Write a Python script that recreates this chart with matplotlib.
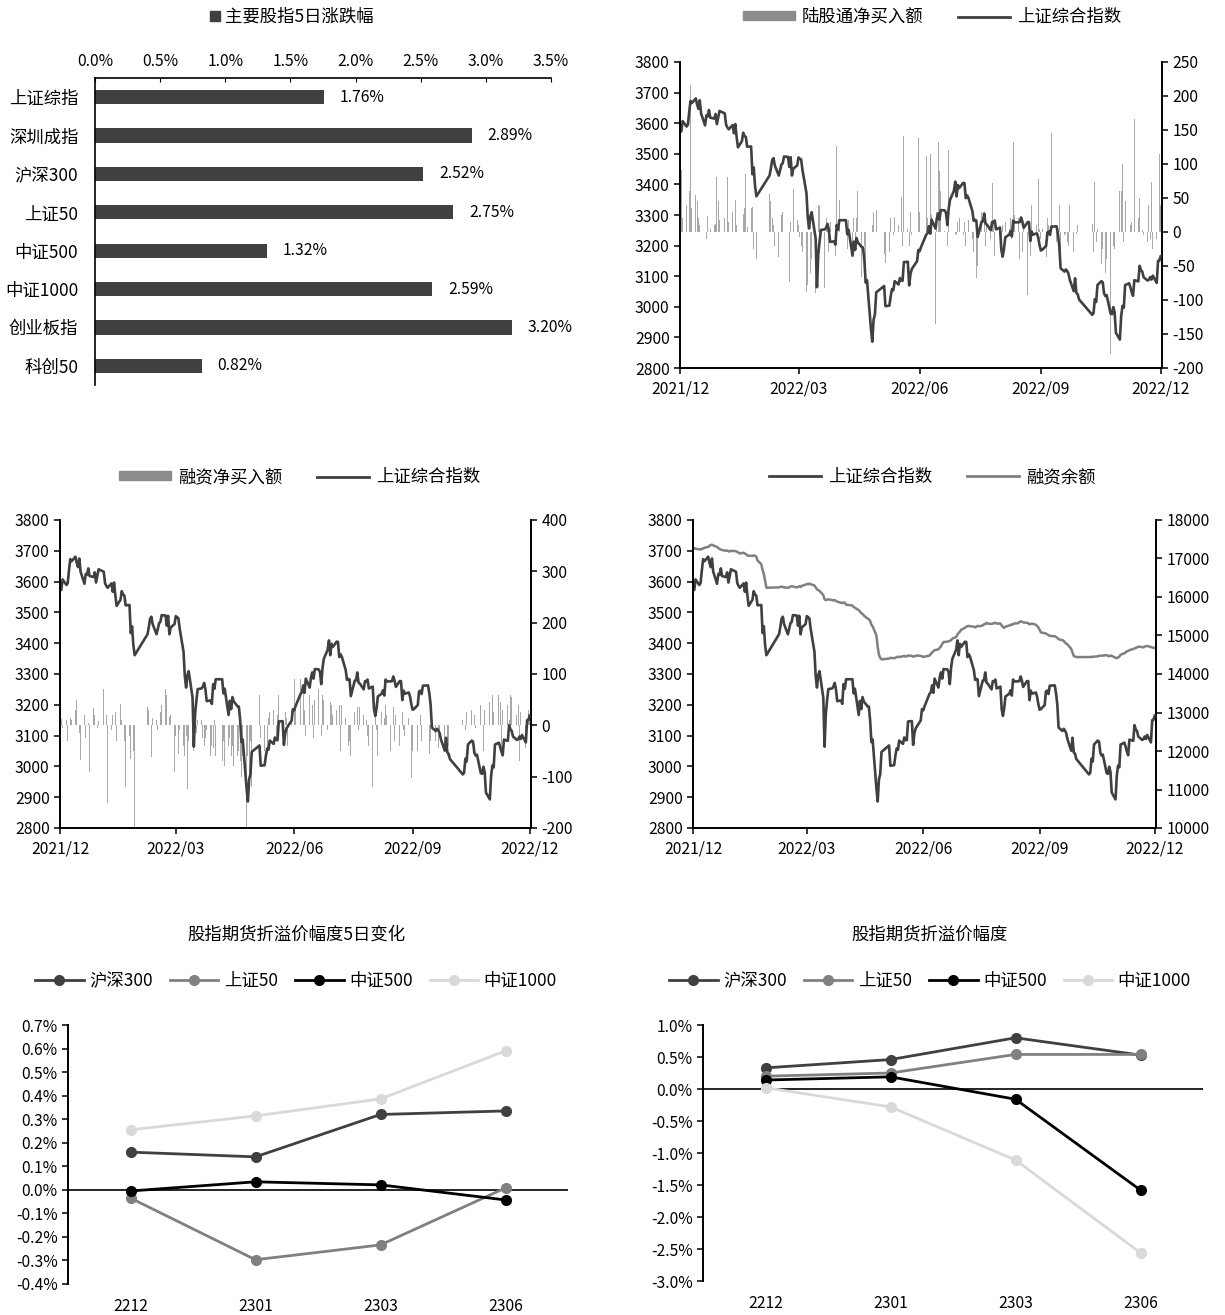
import numpy as np
import pandas as pd
import matplotlib
matplotlib.use('Agg')
import matplotlib.pyplot as plt
import matplotlib.dates as mdates
from matplotlib.patches import Patch
from matplotlib.lines import Line2D
from matplotlib.ticker import FuncFormatter, MultipleLocator

plt.rcParams['font.family'] = ['Noto Sans CJK SC', 'DejaVu Sans']
plt.rcParams['axes.unicode_minus'] = False

# ---- panel 1: 5-day change of main indices ----
idx_names = ['上证综指', '深圳成指', '沪深300', '上证50', '中证500', '中证1000', '创业板指', '科创50']
idx_chg = [1.76, 2.89, 2.52, 2.75, 1.32, 2.59, 3.20, 0.82]

# ---- daily series, 2021/12/01 - 2022/12/01 (trading days) ----
holidays = ['2022-01-03', '2022-01-31', '2022-02-01', '2022-02-02', '2022-02-03', '2022-02-04',
            '2022-04-04', '2022-04-05', '2022-05-02', '2022-05-03', '2022-05-04', '2022-06-03',
            '2022-09-12', '2022-10-03', '2022-10-04', '2022-10-05', '2022-10-06', '2022-10-07']

sh_dec21 = [3576, 3573, 3607, 3589, 3595, 3637, 3673, 3666, 3681, 3661, 3647, 3675, 3632, 3593, 3625,
            3622, 3643, 3618, 3615, 3630, 3597, 3619, 3640]
sh_jan = [3632, 3595, 3586, 3580, 3594, 3567, 3597, 3555, 3521, 3541, 3569, 3558, 3555, 3523, 3524,
          3433, 3455, 3394, 3361]
sh_feb = [3429, 3452, 3479, 3486, 3462, 3429, 3446, 3465, 3469, 3491, 3490, 3457, 3489, 3429, 3451, 3462]
sh_mar = [3488, 3484, 3481, 3447, 3372, 3293, 3256, 3296, 3309, 3223, 3064, 3171, 3215, 3251, 3253,
          3259, 3271, 3250, 3212, 3214, 3203, 3267, 3252]
sh_apr = [3283, 3283, 3237, 3252, 3167, 3213, 3186, 3225, 3211, 3195, 3194, 3151, 3079, 3087, 2928,
          2886, 2958, 2975, 3047]
sh_may = [3068, 3002, 3004, 3035, 3058, 3054, 3084, 3073, 3094, 3086, 3085, 3146, 3147, 3070, 3107,
          3123, 3130, 3149, 3186]
sh_jun = [3182, 3195, 3236, 3241, 3263, 3239, 3285, 3256, 3288, 3305, 3285, 3316, 3315, 3307, 3267,
          3320, 3349, 3379, 3409, 3361, 3398]
sh_jul = [3388, 3405, 3404, 3355, 3364, 3356, 3313, 3281, 3284, 3282, 3228, 3278, 3279, 3305, 3272,
          3269, 3250, 3277, 3275, 3282, 3253]
sh_aug = [3259, 3186, 3164, 3189, 3227, 3236, 3247, 3230, 3282, 3276, 3276, 3277, 3292, 3278, 3258,
          3277, 3277, 3215, 3246, 3236, 3240, 3227, 3202]
sh_sep = [3184, 3186, 3199, 3243, 3246, 3235, 3262, 3263, 3237, 3200, 3126, 3115, 3122, 3117, 3108,
          3088, 3051, 3093, 3045, 3041, 3024]
sh_oct = [2974, 2979, 3025, 3016, 3071, 3084, 3080, 3044, 3035, 3038, 2978, 2976, 2999, 2982, 2915, 2893]
sh_nov = [2969, 3003, 2997, 3071, 3077, 3064, 3048, 3036, 3087, 3083, 3134, 3120, 3115, 3097, 3086,
          3088, 3097, 3089, 3102, 3078, 3150, 3151]
sh_dec22 = [3165]

# northbound net buy (亿元)
nb_dec21 = [30, 91, 20, 40, 97, 60, 216, 35, 54, 45, 20, 10, -66, -17, -10, 24, 15, 5, 10, 12, 81, 45, 18]
nb_jan = [20, -67, 81, 15, 30, -41, 47, 10, -12, 20, 27, 35, 85, 8, 35, 37, -25, -146, -40]
nb_feb = [56, 45, 20, 10, -20, -37, 15, 25, 30, 63, 10, -73, 15, -20, 63, 17]
nb_mar = [10, -7, -20, -30, -88, -78, -20, -60, -40, -90, -161, 40, 38, 15, -83, 20, 10, -30, 15, 20,
          -35, 127, 10]
nb_apr = [47, -53, -25, 17, -37, 20, -15, 20, 60, -66, 12, -20, -50, 67, -25, 10, 30, 15, 32]
nb_may = [-32, -45, -30, 20, 15, -5, 22, 10, 60, 52, -20, 141, 5, -20, 30, -5, 20, 32, 138]
nb_jun = [30, 20, 112, 20, 35, 115, 25, -135, 30, 133, 90, 60, 1, 50, -20, 120, 27, 40, -3, -5, 15]
nb_jul = [20, -5, 15, -20, 10, 17, -10, -30, 5, -68, -50, 30, -99, 18, -20, 10, -10, 72, 15, -36, -20]
nb_aug = [-32, -20, 10, 20, 15, 5, 20, -10, 132, 25, 20, -40, 13, -30, 15, -93, -50, -35, 40, 10, 10,
          78, 5]
nb_sep = [-10, 5, -37, 20, 10, 5, 146, -15, 15, 40, -45, -5, -3, -15, -20, 40, -30, 20, -3, 10, -2]
nb_oct = [12, -30, 73, -15, 5, -47, -25, -86, -60, -40, -180, 30, -20, -25, -47, 60]
nb_nov = [60, 100, -15, 45, -47, 10, 15, 146, 166, 20, 50, -20, 3, -5, -15, 40, -10, 73, -25, -10, 98, 115]
nb_dec22 = [40]

# margin net buy (亿元)
mg_dec21 = [-10, 12, -5, 10, -30, 25, 15, 10, 30, 50, 20, -15, -68, 20, -25, 10, 5, -90, 33, 20, -15, -5, 8]
mg_jan = [70, -20, 20, -152, -10, 20, -45, 25, -30, 42, 10, -100, -30, -120, -20, -65, -100, -50, -202]
mg_feb = [36, 30, 20, -62, 15, 10, -10, 15, 25, 40, 70, 60, -36, 16, 20, -91]
mg_mar = [-20, -30, -55, -10, -40, -60, -20, -124, -30, -40, -50, 20, -15, 10, 10, -25, -40, -25, -10,
          -60, -40, -45, 10]
mg_apr = [-60, -70, -30, -80, -40, -25, -60, -40, -80, -60, -50, -70, -100, -60, -202, -60, -120, -30, -120]
mg_may = [60, -25, -50, 10, -55, 15, 25, 30, 10, -20, 20, 60, -10, -30, 25, 15, -40, 30, 90]
mg_jun = [91, 40, 90, 50, 70, 30, -20, 60, 101, 40, -25, 50, 70, 30, -20, 60, 50, -10, 80, 45, 40]
mg_jul = [20, 30, -20, 40, -50, 40, 15, -10, -40, -30, -60, 25, 20, 35, -10, 35, 20, 25, 10, -20, -40]
mg_aug = [-120, -40, 20, -10, -60, 25, -30, 15, 40, 20, -50, 10, 35, -30, 20, -40, 10, 25, -10, -20, 15,
          -55, -103]
mg_sep = [-50, 20, -50, 10, 20, -30, 10, -55, -55, -30, -50, -30, -40, -45, -15, -60, -50, -40, -60, -40, -163]
mg_oct = [10, 20, -10, 25, 15, 30, 35, 20, -5, 25, 40, 20, -50, 30, -20, 45]
mg_nov = [50, 60, 25, 40, 59, 45, -50, 30, 20, 40, 10, 60, 55, 30, 20, 40, -70, 25, 20, -45, 10, 30]
mg_dec22 = [20]

# margin balance (亿元)
bal_dec21 = [17280, 17270, 17250, 17240, 17230, 17250, 17260, 17280, 17300, 17330, 17350, 17360, 17340,
             17300, 17270, 17250, 17230, 17220, 17200, 17210, 17190, 17180, 17200]
bal_jan = [17190, 17170, 17150, 17130, 17150, 17130, 17110, 17080, 17070, 17070, 17080, 17070, 17050,
           16950, 16850, 16700, 16600, 16420, 16240]
bal_feb = [16250, 16260, 16270, 16260, 16250, 16240, 16250, 16270, 16280, 16270, 16250, 16260, 16280,
           16260, 16290, 16320]
bal_mar = [16340, 16330, 16350, 16330, 16300, 16250, 16200, 16180, 16160, 16050, 15940, 15920, 15930,
           15940, 15920, 15910, 15920, 15900, 15880, 15850, 15840, 15860, 15850]
bal_apr = [15800, 15780, 15740, 15720, 15660, 15620, 15580, 15560, 15520, 15440, 15420, 15380, 15280,
           15240, 15000, 14700, 14500, 14420, 14380]
bal_may = [14400, 14420, 14410, 14420, 14440, 14450, 14440, 14460, 14470, 14450, 14460, 14480, 14470,
           14450, 14460, 14470, 14480, 14470, 14460]
bal_jun = [14440, 14450, 14480, 14520, 14560, 14590, 14620, 14640, 14680, 14720, 14780, 14830, 14840,
           14850, 14860, 14880, 14920, 14960, 15020, 15070, 15100]
bal_jul = [15150, 15200, 15230, 15240, 15250, 15240, 15230, 15210, 15230, 15250, 15240, 15260, 15290,
           15300, 15330, 15310, 15300, 15310, 15320, 15330, 15310]
bal_aug = [15310, 15260, 15220, 15200, 15230, 15260, 15280, 15270, 15300, 15310, 15320, 15350, 15370,
           15360, 15340, 15330, 15320, 15290, 15300, 15310, 15280, 15250, 15210]
bal_sep = [15150, 15080, 15060, 15050, 15030, 15010, 14990, 14980, 14960, 14940, 14900, 14880, 14860,
           14820, 14790, 14770, 14650, 14560, 14470, 14450, 14440]
bal_oct = [14440, 14440, 14450, 14440, 14450, 14460, 14470, 14480, 14470, 14480, 14490, 14470, 14460,
           14480, 14470, 14420]
bal_nov = [14410, 14430, 14450, 14500, 14540, 14560, 14590, 14600, 14620, 14650, 14660, 14680, 14690,
           14710, 14700, 14690, 14710, 14720, 14730, 14700, 14690, 14680]
bal_dec22 = [14680]

# ---- futures basis panels ----
contracts = ['2212', '2301', '2303', '2306']
basis_chg_hs300 = [0.16, 0.14, 0.32, 0.335]
basis_chg_sz50 = [-0.035, -0.297, -0.234, 0.008]
basis_chg_zz500 = [-0.005, 0.034, 0.021, -0.043]
basis_chg_zz1000 = [0.255, 0.314, 0.386, 0.59]

basis_hs300 = [0.33, 0.46, 0.80, 0.53]
basis_sz50 = [0.20, 0.25, 0.54, 0.54]
basis_zz500 = [0.14, 0.19, -0.16, -1.58]
basis_zz1000 = [0.02, -0.28, -1.11, -2.56]

# assemble daily series
sh_index = sum([sh_dec21, sh_jan, sh_feb, sh_mar, sh_apr, sh_may, sh_jun, sh_jul, sh_aug, sh_sep,
                sh_oct, sh_nov, sh_dec22], [])
northbound = sum([nb_dec21, nb_jan, nb_feb, nb_mar, nb_apr, nb_may, nb_jun, nb_jul, nb_aug, nb_sep,
                  nb_oct, nb_nov, nb_dec22], [])
margin_buy = sum([mg_dec21, mg_jan, mg_feb, mg_mar, mg_apr, mg_may, mg_jun, mg_jul, mg_aug, mg_sep,
                  mg_oct, mg_nov, mg_dec22], [])
margin_bal = sum([bal_dec21, bal_jan, bal_feb, bal_mar, bal_apr, bal_may, bal_jun, bal_jul, bal_aug,
                  bal_sep, bal_oct, bal_nov, bal_dec22], [])

days = pd.bdate_range('2021-12-01', '2022-12-01')
days = days[~days.isin(pd.to_datetime(holidays))]

DARK = '#404040'
MID = '#808080'
BAR = '#a8a8a8'
W, H = 1225, 1315
fig = plt.figure(figsize=(W / 100, H / 100), dpi=100)


def px_axes(l, t, r, b):
    return fig.add_axes([l / W, 1 - b / H, (r - l) / W, (b - t) / H])


def fpos(x, y):
    return (x / W, 1 - y / H)


TICK_FS = 11.3
TXT_FS = 12.5

# ======== panel 1 ========
ax1 = px_axes(95, 78, 551, 385)
ax1.barh(range(len(idx_names)), idx_chg, height=0.37, color=DARK)
for i, v in enumerate(idx_chg):
    ax1.text(v + 0.12, i, f'{v:.2f}%', va='center', ha='left', fontsize=TICK_FS)
ax1.set_xlim(0, 3.5)
ax1.set_ylim(len(idx_names) - 0.5, -0.5)
ax1.xaxis.set_major_locator(MultipleLocator(0.5))
ax1.xaxis.set_major_formatter(FuncFormatter(lambda x, p: f'{x:.1f}%'))
ax1.xaxis.set_ticks_position('top')
ax1.tick_params(axis='x', direction='in', length=3, labelsize=TICK_FS, pad=6)
ax1.set_yticks(range(len(idx_names)))
ax1.set_yticklabels(idx_names, fontsize=TXT_FS)
ax1.tick_params(axis='y', length=0, pad=12)
for s in ['right', 'bottom']:
    ax1.spines[s].set_visible(False)
for s in ['left', 'top']:
    ax1.spines[s].set_linewidth(1.2)
fig.legend(handles=[Patch(color=DARK, label='主要股指5日涨跌幅')], loc='center',
           bbox_to_anchor=fpos(292, 17), frameon=False, fontsize=TXT_FS,
           handlelength=0.55, handleheight=0.55, handletextpad=0.3)


def date_panel(l, t, r, b, right_lim, right_step):
    ax = px_axes(l, t, r, b)
    axr = ax.twinx()
    ax.set_zorder(axr.get_zorder() + 1)
    ax.patch.set_visible(False)
    ax.set_ylim(2800, 3800)
    ax.yaxis.set_major_locator(MultipleLocator(100))
    axr.set_ylim(*right_lim)
    axr.yaxis.set_major_locator(MultipleLocator(right_step))
    ax.set_xlim(pd.Timestamp('2021-12-01'), pd.Timestamp('2022-12-02'))
    ax.set_xticks(pd.to_datetime(['2021-12-01', '2022-03-01', '2022-06-01', '2022-09-01', '2022-12-01']))
    ax.xaxis.set_major_formatter(mdates.DateFormatter('%Y/%m'))
    for a in (ax, axr):
        a.spines['top'].set_visible(False)
        a.tick_params(direction='out', length=4, width=1.1, labelsize=TICK_FS)
    ax.tick_params(axis='x', pad=5)
    ax.spines['right'].set_visible(False)
    axr.spines['left'].set_visible(False)
    axr.spines['bottom'].set_visible(False)
    for s in ['left', 'bottom']:
        ax.spines[s].set_linewidth(1.4)
    axr.spines['right'].set_linewidth(1.4)
    return ax, axr


# ======== panel 2: northbound ========
ax2, ax2r = date_panel(680, 62, 1162, 368, (-200, 250), 50)
ax2r.bar(days, northbound, width=0.6, color=BAR)
ax2.plot(days, sh_index, color=DARK, lw=1.9)
fig.legend(handles=[Patch(color='#8c8c8c', label='陆股通净买入额'),
                    Line2D([], [], color=DARK, lw=2, label='上证综合指数')],
           loc='center', bbox_to_anchor=fpos(932, 17), ncol=2, frameon=False, fontsize=TXT_FS,
           handlelength=3.0, handleheight=0.45, columnspacing=2.0, handletextpad=0.4)

# ======== panel 3: margin net buy ========
ax3, ax3r = date_panel(60, 520, 531, 828, (-200, 400), 100)
ax3r.bar(days, margin_buy, width=0.6, color=BAR)
ax3.plot(days, sh_index, color=DARK, lw=1.9)
fig.legend(handles=[Patch(color='#8c8c8c', label='融资净买入额'),
                    Line2D([], [], color=DARK, lw=2, label='上证综合指数')],
           loc='center', bbox_to_anchor=fpos(300, 477), ncol=2, frameon=False, fontsize=TXT_FS,
           handlelength=3.0, handleheight=0.45, columnspacing=2.0, handletextpad=0.4)

# ======== panel 4: margin balance ========
ax4, ax4r = date_panel(693, 520, 1156, 828, (10000, 18000), 1000)
ax4r.plot(days, margin_bal, color=MID, lw=1.8)
ax4.plot(days, sh_index, color=DARK, lw=1.9)
fig.legend(handles=[Line2D([], [], color=DARK, lw=2, label='上证综合指数'),
                    Line2D([], [], color=MID, lw=2, label='融资余额')],
           loc='center', bbox_to_anchor=fpos(932, 477), ncol=2, frameon=False, fontsize=TXT_FS,
           handlelength=3.0, columnspacing=2.0, handletextpad=0.4)


# ======== panels 5/6: futures basis ========
def basis_panel(l, t, r, b, series, ylim, step, title, cx):
    ax = px_axes(l, t, r, b)
    colors = [DARK, MID, 'black', '#d9d9d9']
    names = ['沪深300', '上证50', '中证500', '中证1000']
    x = np.arange(len(contracts))
    for vals, c, n in zip(series, colors, names):
        ax.plot(x, vals, color=c, lw=2, marker='o', markersize=7, label=n, zorder=3)
    ax.axhline(0, color='black', lw=1.2, zorder=2)
    ax.set_xlim(-0.5, len(contracts) - 0.5)
    ax.set_ylim(*ylim)
    ax.yaxis.set_major_locator(MultipleLocator(step))
    ax.yaxis.set_major_formatter(FuncFormatter(lambda v, p: f'{v:.1f}%'))
    ax.set_xticks(x)
    ax.set_xticklabels(contracts)
    ax.tick_params(axis='x', length=0, pad=10, labelsize=TICK_FS)
    ax.tick_params(axis='y', direction='out', length=4, width=1.1, labelsize=TICK_FS)
    for s in ['top', 'right', 'bottom']:
        ax.spines[s].set_visible(False)
    ax.spines['left'].set_linewidth(1.4)
    fig.text(*fpos(cx, 935), title, ha='center', va='center', fontsize=TXT_FS)
    h, lab = ax.get_legend_handles_labels()
    fig.legend(h, lab, loc='center', bbox_to_anchor=fpos(cx, 981), ncol=4, frameon=False,
               fontsize=TXT_FS, handlelength=2.8, columnspacing=1.0, handletextpad=0.3)
    return ax


basis_panel(68, 1025, 568, 1284,
            [basis_chg_hs300, basis_chg_sz50, basis_chg_zz500, basis_chg_zz1000],
            (-0.4, 0.7), 0.1, '股指期货折溢价幅度5日变化', 296)
basis_panel(703, 1025, 1203, 1281,
            [basis_hs300, basis_sz50, basis_zz500, basis_zz1000],
            (-3.0, 1.0), 0.5, '股指期货折溢价幅度', 930)

fig.savefig('out.png', dpi=100)
